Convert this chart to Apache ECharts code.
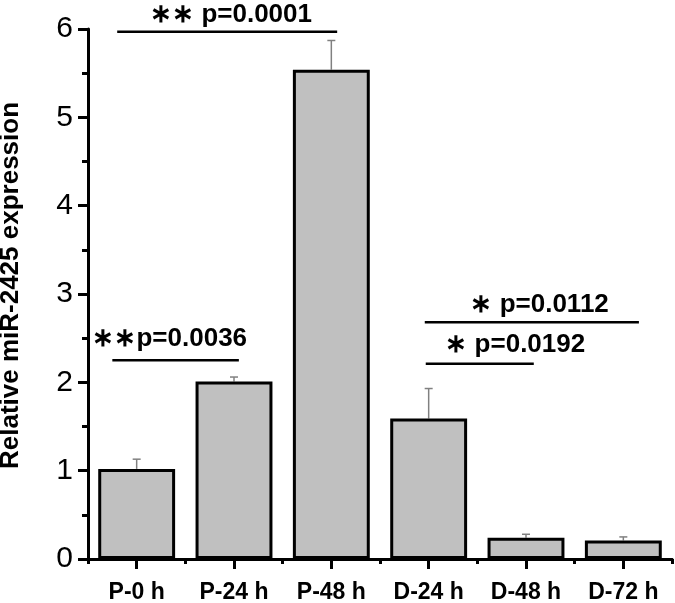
<!DOCTYPE html>
<html>
<head>
<meta charset="utf-8">
<script src="https://cdn.jsdelivr.net/npm/echarts@6/dist/echarts.min.js"></script>
<style>
html,body{margin:0;padding:0;background:#fff;}
#chart{width:675px;height:603px;}
</style>
</head>
<body>
<div id="chart"></div>
<script>
// ---- data ----
var categories = ['P-0 h', 'P-24 h', 'P-48 h', 'D-24 h', 'D-48 h', 'D-72 h'];
var means = [1.02, 2.01, 5.54, 1.59, 0.24, 0.21];
var errors = [0.11, 0.05, 0.33, 0.34, 0.04, 0.04];
var yTicks = [0, 1, 2, 3, 4, 5, 6];

// significance annotations (x in category units, 0..6; y in data units)
var sigLabels = ['\u2217\u2217 p=0.0001', '\u2217\u2217p=0.0036', '\u2217 p=0.0112', '\u2217 p=0.0192'];
var sigStart = [0.30, 0.25, 3.46, 3.47];
var sigEnd = [2.56, 1.55, 5.66, 4.58];
var sigLineY = [5.97, 2.25, 2.68, 2.21];
var sigTextX = [1.47, 0.84, 4.64, 4.39];
var sigTextY = [6.16, 2.49, 2.88, 2.43];

var FONT = "'Liberation Sans', Arial, sans-serif";

var chart = echarts.init(document.getElementById('chart'), null, {renderer: 'canvas'});

var errData = categories.map(function (c, i) { return [i, means[i], errors[i]]; });
var sigData = sigLabels.map(function (l, i) { return [sigStart[i], sigEnd[i], sigLineY[i], sigTextX[i], sigTextY[i], i]; });

var option = {
  backgroundColor: '#fff',
  animation: false,
  grid: {left: 88, right: 3, top: 29, bottom: 44, containLabel: false, outerBoundsMode: 'none'},
  xAxis: [{
    type: 'category',
    data: categories,
    boundaryGap: true,
    axisLine: {show: true, lineStyle: {color: '#000', width: 3}},
    axisTick: {show: true, alignWithLabel: true, length: 10, lineStyle: {color: '#000', width: 3}},
    axisLabel: {show: true, color: '#000', fontSize: 23, fontWeight: 'bold', fontFamily: FONT, margin: 22, interval: 0},
    splitLine: {show: false}
  }, {
    type: 'value',
    min: 0, max: 6, interval: 1,
    position: 'bottom',
    axisLine: {show: true, lineStyle: {color: '#000', width: 3}},
    axisTick: {show: true, length: 5, lineStyle: {color: '#000', width: 3}},
    axisLabel: {show: false},
    splitLine: {show: false}
  }],
  yAxis: {
    type: 'value',
    min: 0, max: 6, interval: 1,
    name: 'Relative miR-2425 expression',
    nameLocation: 'middle',
    nameGap: 64,
    nameRotate: 90,
    nameTextStyle: {color: '#000', fontSize: 26, fontWeight: 'bold', fontFamily: FONT, padding: [0, 0, 0, 17]},
    axisLine: {show: true, lineStyle: {color: '#000', width: 3}},
    axisTick: {show: true, inside: false, length: 10, lineStyle: {color: '#000', width: 3}},
    minorTick: {show: true, splitNumber: 2, length: 6, lineStyle: {color: '#000', width: 3}},
    axisLabel: {show: true, color: '#000', fontSize: 30, fontFamily: FONT, margin: 15,
      formatter: function (v) { return yTicks.indexOf(v) >= 0 ? String(v) : ''; }},
    splitLine: {show: false},
    minorSplitLine: {show: false}
  },
  series: [{
    type: 'bar',
    xAxisIndex: 0,
    data: means,
    barWidth: '79%',
    itemStyle: {color: '#c0c0c0', borderColor: '#000', borderWidth: 3},
    z: 3
  }, {
    type: 'custom',
    xAxisIndex: 0,
    data: errData,
    z: 2,
    renderItem: function (params, api) {
      var x = api.value(0), m = api.value(1), e = api.value(2);
      var p0 = api.coord([x, m]);
      var p1 = api.coord([x, m + e]);
      var hw = 4;
      return {
        type: 'group',
        children: [{
          type: 'line', shape: {x1: p0[0], y1: p0[1], x2: p1[0], y2: p1[1]},
          style: {stroke: '#808080', lineWidth: 1.5}
        }, {
          type: 'line', shape: {x1: p1[0] - hw, y1: p1[1], x2: p1[0] + hw, y2: p1[1]},
          style: {stroke: '#808080', lineWidth: 1.5}
        }]
      };
    }
  }, {
    type: 'custom',
    xAxisIndex: 1,
    data: sigData,
    clip: false,
    z: 5,
    renderItem: function (params, api) {
      var a = api.coord([api.value(0), api.value(2)]);
      var b = api.coord([api.value(1), api.value(2)]);
      var t = api.coord([api.value(3), api.value(4)]);
      var idx = api.value(5);
      return {
        type: 'group',
        children: [{
          type: 'line', shape: {x1: a[0], y1: a[1], x2: b[0], y2: b[1]},
          style: {stroke: '#000', lineWidth: 2.5}
        }, {
          type: 'text', x: t[0], y: t[1],
          style: {text: sigLabels[idx], fill: '#000', fontSize: 26, fontWeight: 'bold', fontFamily: FONT,
            align: 'center', verticalAlign: 'middle'}
        }]
      };
    }
  }]
};
chart.setOption(option);
</script>
</body>
</html>
